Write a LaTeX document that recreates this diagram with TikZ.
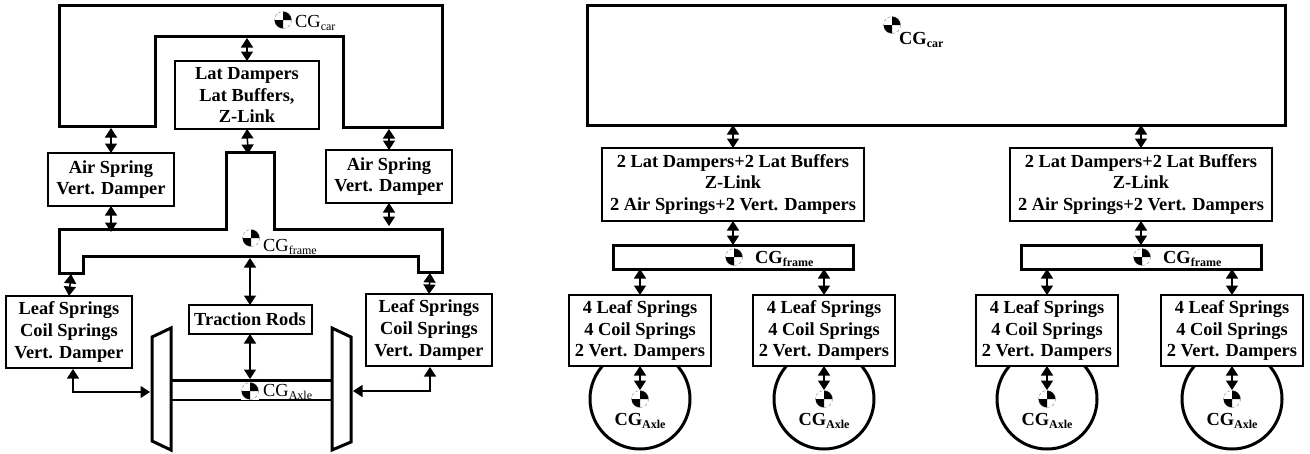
\documentclass[tikz,border=0pt]{standalone}
\usepackage{fontspec}
\setmainfont{Liberation Serif}
\usepackage{tikz}
\usetikzlibrary{arrows.meta,positioning}
\newcommand{\cgname}[1]{CG\raisebox{-3.5pt}{\fontsize{12}{12}\selectfont #1}}
\tikzset{
  partbox/.style={draw,fill=white,line width=2pt,align=center,inner sep=0pt,outer sep=0pt,font=\fontsize{18.4}{21.7}\selectfont\bfseries},
  bodybox/.style={draw,line width=3pt,inner sep=0pt,outer sep=0pt},
  bodyline/.style={line width=3pt,line join=miter},
  twoway/.style={{Triangle[length=9.5pt,width=12pt]}-{Triangle[length=9.5pt,width=12pt]},line width=1.5pt},
  cgmark/.style={rectangle,fill=white,minimum size=18pt,inner sep=0pt,outer sep=0pt,path picture={
    \coordinate (markmid) at (path picture bounding box.center);
    \fill[black] (markmid) -- ++(8.5pt,0pt) arc (0:90:8.5pt) -- cycle;
    \fill[black] (markmid) -- ++(-8.5pt,0pt) arc (180:270:8.5pt) -- cycle;
    \draw[gray,densely dashed,line width=.4pt] (markmid) circle (8.5pt);}},
  cgplain/.style={anchor=base west,inner sep=0pt,font=\fontsize{18.4}{20}\selectfont},
  cgbold/.style={inner sep=0pt,font=\fontsize{18.4}{20}\selectfont\bfseries}
}
\begin{document}
\begin{tikzpicture}[x=1pt,y=-1pt]
\useasboundingbox (0,0) rectangle (1310,453);
% left: side view of the car
\draw[bodyline] (59,5) -- (442,5) -- (442,127) -- (343,127) -- (343,36) -- (155,36) -- (155,126) -- (59,126) -- cycle;
\draw[bodyline] (59,229) -- (226,229) -- (226,152) -- (274,152) -- (274,229) -- (442,229) -- (442,272) -- (418,272) -- (418,256) -- (83,256) -- (83,273) -- (59,273) -- cycle;
\draw[bodyline] (152,337) -- (171,328) -- (171,450) -- (152,441) -- cycle;
\draw[bodyline] (332,328) -- (351,337) -- (351,442) -- (332,450) -- cycle;
\draw[bodyline] (171,380) -- (332,380);
\draw[line width=2.5pt] (171,400) -- (332,400);
\node[partbox,minimum width=144pt,minimum height=68pt] (lat) at (247,95) {Lat Dampers\\Lat Buffers,\\Z-Link};
\node[partbox,minimum width=126pt,minimum height=53pt] (airl) at (111,179.5) {Air Spring\\Vert. Damper};
\node[partbox,minimum width=126pt,minimum height=53pt] (airr) at (389,176.5) {Air Spring\\Vert. Damper};
\node[partbox,minimum width=126pt,minimum height=72pt] (leafl) at (69,332) {Leaf Springs\\Coil Springs\\Vert. Damper};
\node[partbox,minimum width=126pt,minimum height=72pt] (leafr) at (429,330) {Leaf Springs\\Coil Springs\\Vert. Damper};
\node[partbox,minimum width=123pt,minimum height=29pt] (rods) at (250,319.5) {Traction Rods};
\node[cgmark] (cgcar) at (283,20) {};
\node[cgplain] (cgcarname) at (295,27) {\cgname{car}};
\node[cgmark] (cgframe) at (251,238) {};
\node[cgplain] (cgframename) at (263,251) {\cgname{frame}};
\node[cgmark] (cgaxle) at (250,391) {};
\node[cgplain] (cgaxlename) at (263,396) {\cgname{Axle}};
\coordinate (carlat) at (247,38);
\coordinate (carairl) at (111,128);
\coordinate (carairr) at (389,129);
\coordinate (framelat) at (248,154);
\coordinate (frameairl) at (111,232);
\coordinate (frameairr) at (389,226);
\coordinate (frameleafl) at (71,274);
\coordinate (frameleafr) at (430,273);
\coordinate (framerods) at (250,258);
\coordinate (axlerods) at (250,379);
\coordinate (leaflend) at (73,369);
\coordinate (wheelleft) at (150,392);
\coordinate (leafrend) at (430,367);
\coordinate (wheelright) at (353,391);
\foreach \a/\b in {carlat/lat.north,carairl/airl.north,carairr/airr.north,lat.south/framelat,airl.south/frameairl,airr.south/frameairr,frameleafl/leafl.north,frameleafr/leafr.north,framerods/rods.north,rods.south/axlerods}{\draw[twoway] (\a) -- (\b);}
\draw[twoway,line width=1.2pt] (leaflend) |- (wheelleft);
\draw[twoway,line width=1.2pt] (leafrend) |- (wheelright);
% right: two bogie groups
\node[bodybox,minimum width=698pt,minimum height=120pt] (car) at (936,65) {};
\node[cgmark] (cgcarb) at (892,25) {};
\node[cgbold,anchor=base west] (cgcarbname) at (899,44) {\cgname{car}};
\node[partbox,minimum width=262pt,minimum height=73pt] (mida) at (733,184.5) {2 Lat Dampers+2 Lat Buffers\\Z-Link\\2 Air Springs+2 Vert. Dampers};
\node[partbox,minimum width=262pt,minimum height=73pt,right=146pt of mida] (midb) {2 Lat Dampers+2 Lat Buffers\\Z-Link\\2 Air Springs+2 Vert. Dampers};
\node[bodybox,minimum width=240pt,minimum height=24pt,below=24pt of mida] (framea) {};
\node[bodybox,minimum width=240pt,minimum height=24pt,below=24pt of midb] (frameb) {};
\node[cgmark] (cgframea) at (734,257) {};
\node[cgbold,anchor=base west] (cgframeaname) at (755,263) {\cgname{frame}};
\node[cgmark] (cgframeb) at (1142,257) {};
\node[cgbold,anchor=base west] (cgframebname) at (1163,263) {\cgname{frame}};
\foreach \a in {mida,midb}{\draw[twoway] (car.south -| \a.north) -- (\a.north);}
\draw[twoway] (mida.south) -- (framea.north);
\draw[twoway] (midb.south) -- (frameb.north);
\foreach \n/\x/\f in {a/640/framea,b/824/framea,c/1047/frameb,d/1232/frameb}{
  \node[draw,circle,line width=3pt,minimum size=100pt,inner sep=0pt] (wheel\n) at (\x,399) {};
  \node[partbox,minimum width=142pt,minimum height=71pt] (leaf\n) at (\x,330.5) {4 Leaf Springs\\4 Coil Springs\\2 Vert. Dampers};
  \node[cgmark] (cg\n) at (\x,399) {};
  \node[cgbold,below=5pt of cg\n] (cgname\n) {\cgname{Axle}};
  \draw[twoway] (\f.south -| leaf\n.north) -- (leaf\n.north);
  \draw[twoway] (leaf\n.south) -- (cg\n.north);
}
\end{tikzpicture}
\end{document}
